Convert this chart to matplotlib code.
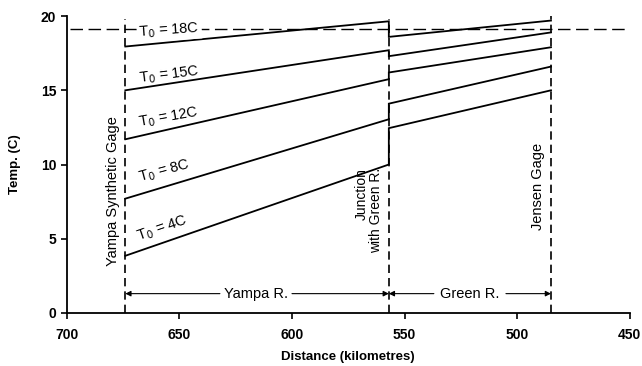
import matplotlib.pyplot as plt

plt.rcParams['font.family'] = ['Liberation Sans', 'DejaVu Sans']

# river km of the three stations
yampa_gage = 674
junction = 557
jensen = 485

# starting temperatures and read-off temperatures along the reach
t0 = [18, 15, 12, 8, 4]
t_junction_up = [19.65, 17.7, 15.75, 13.05, 10.0]   # Yampa side of junction
t_junction_dn = [18.6, 17.3, 16.2, 14.1, 12.45]     # after mixing with Green R.
t_jensen = [19.7, 18.9, 17.9, 16.6, 15.0]
t_start = [17.95, 15.0, 11.7, 7.7, 3.85]

criterion = 19.1

label_pos = [(668, 18.9), (668, 15.8), (668, 12.8), (668, 9.1), (668.5, 5.1)]
label_rot = [4, 7, 10, 15, 19]

fig, ax = plt.subplots(figsize=(6.42, 3.66), dpi=100)
ax.set_position([0.104, 0.145, 0.877, 0.811])

for i in range(len(t0)):
    ax.plot([yampa_gage, junction, junction, jensen],
            [t_start[i], t_junction_up[i], t_junction_dn[i], t_jensen[i]],
            color='black', lw=1.3, solid_joinstyle='miter')
    txt = ax.text(label_pos[i][0], label_pos[i][1], f"T$_0$ = {t0[i]}C", rotation=label_rot[i],
                  ha='left', va='center', fontsize=10.5, rotation_mode='anchor')
    if i == 0:
        # the top label sits on the criterion line and breaks it
        txt.set_bbox(dict(facecolor='white', edgecolor='none', pad=1.5))

ax.axhline(criterion, xmin=0.005, color='black', lw=1.0, dashes=(9, 4), zorder=1)

for x, top in [(yampa_gage, 19.8), (junction, 19.8), (jensen, 20.0)]:
    ax.plot([x, x], [0, top], color='black', lw=1.2, dashes=(5, 3), zorder=4)

vfont = dict(rotation=90, ha='right', va='center', fontsize=10.5)
ax.text(yampa_gage + 2.5, 8.2, "Yampa Synthetic Gage", **vfont)
ax.text(junction + 2.5, 6.9, "Junction\nwith Green R.", multialignment='right', linespacing=1.0,
        rotation=90, ha='right', va='center', fontsize=10)
ax.text(jensen + 2.5, 8.5, "Jensen Gage", **vfont)

arrow = dict(arrowstyle='-|>', color='black', lw=0.8, mutation_scale=8, shrinkA=0, shrinkB=0)
ax.text(616, 1.3, "Yampa R.", ha='center', va='center', fontsize=10.5)
ax.annotate('', xy=(yampa_gage, 1.3), xytext=(632, 1.3), arrowprops=arrow)
ax.annotate('', xy=(junction, 1.3), xytext=(600, 1.3), arrowprops=arrow)
ax.text(521, 1.3, "Green R.", ha='center', va='center', fontsize=10.5)
ax.annotate('', xy=(junction, 1.3), xytext=(537, 1.3), arrowprops=arrow)
ax.annotate('', xy=(jensen, 1.3), xytext=(505, 1.3), arrowprops=arrow)

ax.set_xlim(700, 450)
ax.set_ylim(0, 20)
ax.set_xticks([700, 650, 600, 550, 500, 450])
ax.set_yticks([0, 5, 10, 15, 20])
ax.spines['top'].set_visible(False)
ax.spines['right'].set_visible(False)
ax.spines['left'].set_linewidth(1.3)
ax.spines['bottom'].set_linewidth(1.3)
ax.tick_params(labelsize=10, width=1.2, length=4)
ax.tick_params(axis='x', pad=7)
for lab in ax.get_xticklabels() + ax.get_yticklabels():
    lab.set_fontweight('bold')

ax.set_xlabel("Distance (kilometres)", fontsize=9.5, fontweight='bold', labelpad=6)
ax.set_ylabel("Temp. (C)", fontsize=9.5, fontweight='bold', labelpad=14)

plt.savefig("out.png", dpi=100)
